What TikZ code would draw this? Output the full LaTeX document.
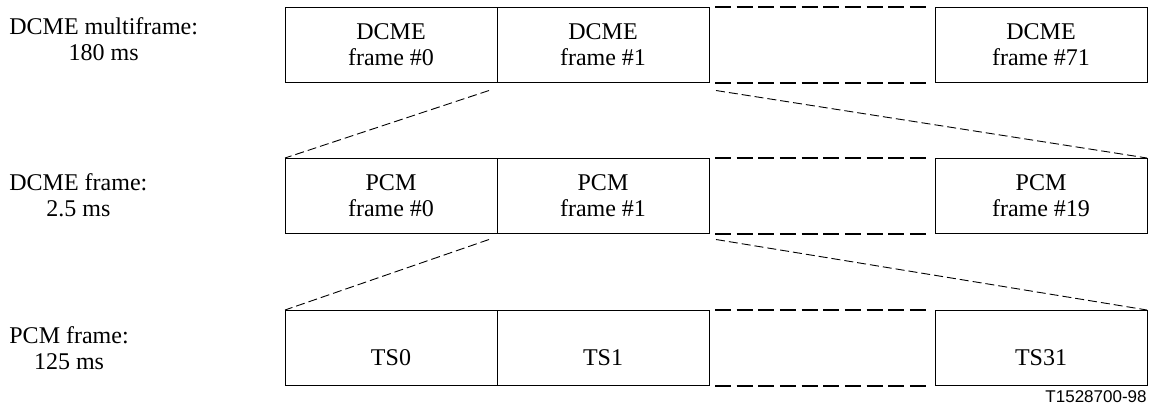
\documentclass[tikz,border=0pt]{standalone}
\usepackage{fontspec}
\setmainfont{Liberation Serif}
\newfontfamily\tagfont{Liberation Sans}
\usepackage{xcolor}
\usetikzlibrary{positioning}

\begin{document}
\begin{tikzpicture}[x=0.5pt,y=-0.5pt,
		slot/.style={draw,line width=0.5pt,minimum width=106pt,minimum height=37.75pt,
			inner sep=0pt,outer sep=0pt,align=center,font=\fontsize{12}{13}\selectfont},
		tsslot/.style={slot,text height=20pt,text depth=2pt},
		gapline/.style={line width=1pt,dash pattern=on 8pt off 2.83pt},
		zoomline/.style={line width=0.45pt,dash pattern=on 4.5pt off 2pt},
		rowlabel/.style={anchor=west,inner sep=0pt,align=center,font=\fontsize{12}{13}\selectfont}]
	\useasboundingbox (0,0) rectangle (1153,408);

	% DCME multiframe
	\node[rowlabel] (lm) at (9,39) {DCME multiframe:\\180 ms};
	\node[slot,anchor=north west] (m0) at (285,7) {DCME\\frame \#0};
	\node[slot,right=0pt of m0] (m1) {DCME\\frame \#1};
	\node[slot,anchor=north east] (m71) at (1147,7) {DCME\\frame \#71};
	\draw[gapline] ([xshift=3pt]m1.north east) -- ([xshift=-4.5pt]m71.north west);
	\draw[gapline] ([xshift=3pt]m1.south east) -- ([xshift=-4.5pt]m71.south west);

	% DCME frame
	\node[rowlabel] (ld) at (9,195) {DCME frame:\\2.5 ms};
	\node[slot,anchor=north west] (d0) at (285,158) {PCM\\frame \#0};
	\node[slot,right=0pt of d0] (d1) {PCM\\frame \#1};
	\node[slot,anchor=north east] (d19) at (1147,158) {PCM\\frame \#19};
	\draw[gapline] ([xshift=3pt]d1.north east) -- ([xshift=-4.5pt]d19.north west);
	\draw[gapline] ([xshift=3pt]d1.south east) -- ([xshift=-4.5pt]d19.south west);

	% PCM frame
	\node[rowlabel] (lp) at (9,348) {PCM frame:\\125 ms};
	\node[tsslot,anchor=north west] (t0) at (285,310) {TS0};
	\node[tsslot,right=0pt of t0] (t1) {TS1};
	\node[tsslot,anchor=north east] (t31) at (1147,310) {TS31};
	\draw[gapline] ([xshift=3pt]t1.north east) -- ([xshift=-4.5pt]t31.north west);
	\draw[gapline] ([xshift=3pt]t1.south east) -- ([xshift=-4.5pt]t31.south west);

	% zoom lines
	\coordinate (ma) at ([shift={(-4pt,-4pt)}]m1.south west);
	\coordinate (mb) at ([shift={(3.5pt,-4pt)}]m1.south east);
	\coordinate (da) at ([shift={(-4pt,-3pt)}]d1.south west);
	\coordinate (db) at ([shift={(3.5pt,-3pt)}]d1.south east);
	\draw[zoomline] (ma) -- (d0.north west);
	\draw[zoomline] (mb) -- (d19.north east);
	\draw[zoomline] (da) -- (t0.north west);
	\draw[zoomline] (db) -- (t31.north east);

	\node[anchor=base east,inner sep=0pt,font=\tagfont\fontsize{8.5}{10}\selectfont] (tag) at (1147,402) {T1528700-98};
\end{tikzpicture}
\end{document}
